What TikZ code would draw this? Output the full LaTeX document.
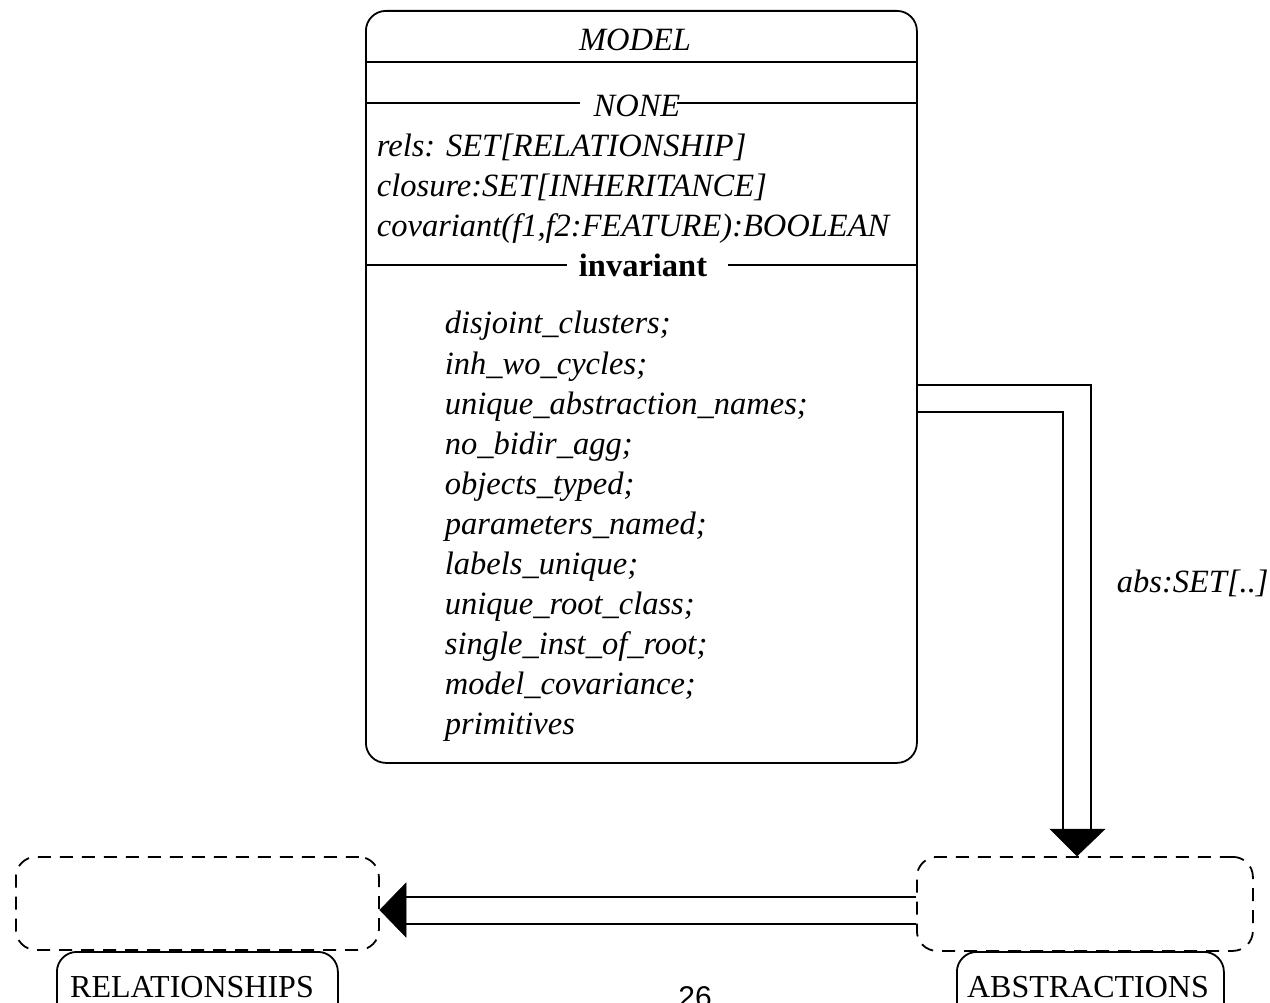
\documentclass[tikz,border=0pt]{standalone}
\usepackage{fontspec}
\setmainfont{Liberation Serif}
\newfontfamily\sansf{Liberation Sans}
\begin{document}
\begin{tikzpicture}[x=1pt,y=-1pt, line width=1.8pt,
  itx/.style={inner sep=0pt, anchor=base west, font=\fontsize{32.5}{38}\selectfont\itshape},
  ctx/.style={inner sep=0pt, anchor=base, font=\fontsize{32.5}{38}\selectfont\itshape},
  btx/.style={inner sep=0pt, anchor=base, font=\fontsize{32.5}{38}\selectfont\bfseries},
  utx/.style={inner sep=0pt, anchor=base, font=\fontsize{32}{38}\selectfont},
  dbox/.style={draw, dash pattern=on 13pt off 9pt, rounded corners=20pt, inner sep=0pt, anchor=north west},
  lbox/.style={draw, rounded corners=20pt, inner sep=0pt, anchor=north west},
  head/.style={fill=black, draw=black, line width=0.5pt}]
\useasboundingbox (0,0) rectangle (1270,1003);
% main class box
\node[draw, rounded corners=20pt, minimum width=551pt, minimum height=752pt, inner sep=0pt, anchor=north west] (model) at (365,10) {};
\node[ctx] (title) at (635,51) {MODEL};
\draw (model.west |- 0,62) -- (model.east |- 0,62);
\node[ctx] (none) at (637,117) {NONE};
\draw (model.west |- 0,103) -- (580,103);
\draw (677,103) -- (model.east |- 0,103);
\node[itx] (f1) at (376,157) {rels: SET[RELATIONSHIP]};
\node[itx] (f2) at (376,197) {closure:SET[INHERITANCE]};
\node[itx] (f3) at (376,237) {covariant(f1,f2:FEATURE):BOOLEAN};
\node[btx] (inv) at (643,277) {invariant};
\draw (model.west |- 0,265) -- (567,265);
\draw (728,265) -- (model.east |- 0,265);
\foreach \t [count=\i from 0] in {disjoint\_clusters;, inh\_wo\_cycles;, unique\_abstraction\_names;, no\_bidir\_agg;, objects\_typed;, parameters\_named;, labels\_unique;, unique\_root\_class;, single\_inst\_of\_root;, model\_covariance;, primitives}
  \node[itx] (inv\i) at (444,334+40*\i) {\t};
% clusters
\node[dbox, minimum width=336pt, minimum height=94pt] (absbox) at (916,856) {};
\node[lbox, minimum width=267pt, minimum height=90pt] (absl) at (956,951) {};
\node[utx] (abst) at (1088,997) {ABSTRACTIONS};
\node[dbox, minimum width=363pt, minimum height=93pt] (relbox) at (15,856) {};
\node[lbox, minimum width=281pt, minimum height=90pt] (rell) at (56,951) {};
\node[utx] (relt) at (192,997) {RELATIONSHIPS};
% model -> abstractions
\draw (model.east |- 0,385) -| (1091,829);
\draw (model.east |- 0,412) -| (1063,829);
\draw[head] (1050,829) -- (1105,829) -- (absbox.north -| 1077,0) -- cycle;
\node[itx] (abslab) at (1116,592) {abs:SET[..]};
% abstractions -> relationships
\draw (absbox.west |- 0,897) -- (406,897);
\draw (absbox.west |- 0,924) -- (406,924);
\draw[head] (406,883) -- (406,937) -- (relbox.east |- 0,910) -- cycle;
% page number
\node[inner sep=0pt, anchor=base, font=\sansf\fontsize{30}{36}\selectfont] (page) at (695,1007) {26};
\end{tikzpicture}
\end{document}
